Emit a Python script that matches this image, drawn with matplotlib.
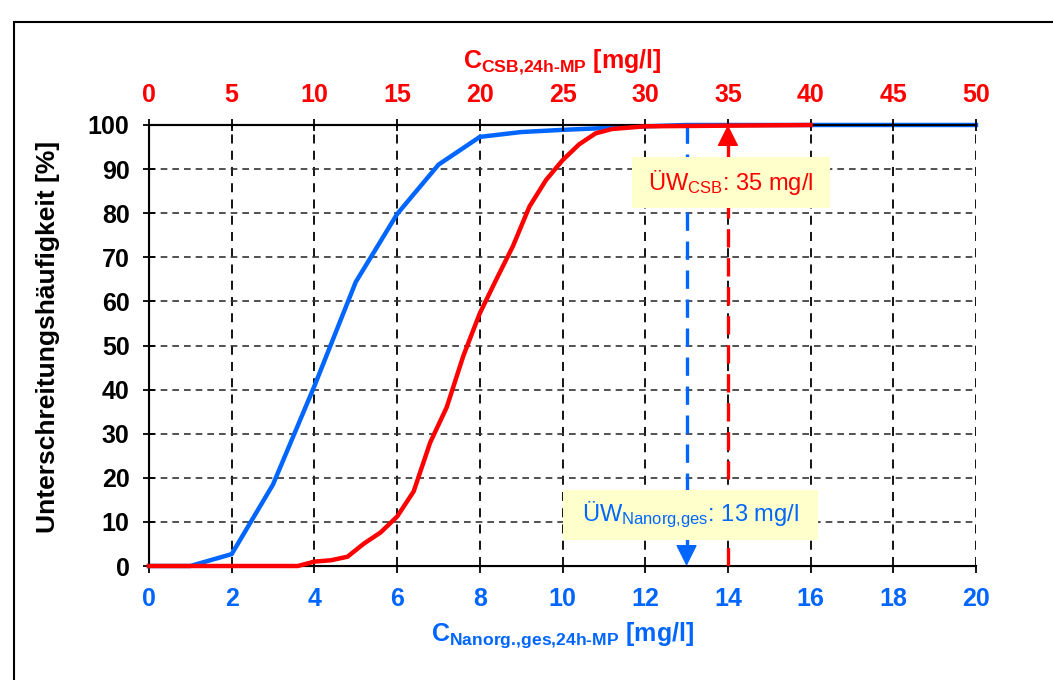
import matplotlib
matplotlib.use("Agg")
import matplotlib.pyplot as plt
from matplotlib.patches import Rectangle

plt.rcParams['font.family'] = ['Liberation Sans', 'DejaVu Sans']
plt.rcParams['mathtext.fontset'] = 'custom'
plt.rcParams['mathtext.rm'] = 'Liberation Sans'
plt.rcParams['mathtext.bf'] = 'Liberation Sans:bold'
plt.rcParams['mathtext.it'] = 'Liberation Sans:italic'
plt.rcParams['mathtext.default'] = 'regular'

# ---- data ----
nanorg_x = [0, 1, 2, 3, 4, 5, 6, 7, 8, 9, 10, 11, 12, 13, 14, 15, 16, 17, 18, 19, 20]
nanorg_y = [0, 0, 2.7, 18.5, 40.8, 64.4, 79.8, 91, 97.3, 98.4, 98.9, 99.3, 99.7, 100,
            100, 100, 100, 100, 100, 100, 100]

csb_x = [0, 9, 10, 11, 12, 13, 14, 15, 16, 17, 18, 19, 20, 21, 22, 23, 24, 25, 26, 27, 28, 30, 40]
csb_y = [0, 0, 1.0, 1.3, 2.1, 5.1, 7.6, 11.2, 16.9, 28, 36, 47.6, 57.3, 65, 72.5, 81.5,
         87.5, 92, 95.6, 98.1, 99.1, 99.7, 100]

uw_nanorg = 13
uw_csb = 35

bottom_ticks = list(range(0, 21, 2))
top_ticks = list(range(0, 51, 5))
y_ticks = list(range(0, 101, 10))

BLUE = '#0066FF'
RED = '#FF0000'
BOX = '#FFFFCC'
FS = 18
FS_ANN = 17
HY = '\u2010'

fig = plt.figure(figsize=(10.53, 6.8), dpi=100)
ax = fig.add_axes([149/1053, 1-566/680, (976-149)/1053, (566-125)/680])

ax.set_xlim(0, 20)
ax.set_ylim(0, 100)
ax.set_xticks(bottom_ticks)
ax.set_yticks(y_ticks)
ax.grid(axis='x', ls=(0, (5, 4)), color='black', lw=1.3)
ax.grid(axis='y', ls=(0, (4, 3)), color='#333333', lw=1.2)
ax.spines['right'].set_visible(False)
for s in ['left', 'bottom', 'top']:
    ax.spines[s].set_linewidth(1.5)
ax.tick_params(axis='y', direction='inout', length=8, width=1.3, pad=10,
               labelsize=FS, labelcolor='black')
ax.tick_params(axis='x', direction='out', length=5, width=1.3, pad=10,
               labelsize=FS, labelcolor=BLUE)
for lab in ax.get_xticklabels() + ax.get_yticklabels():
    lab.set_fontweight('bold')

ax.plot(nanorg_x, nanorg_y, color=BLUE, lw=3.2, zorder=3, clip_on=False)

ax.set_xlabel(r'$\mathbf{C_{Nanorg.\!{,}ges{,}24h' + HY + r'MP}}$ [mg/l]',
              color=BLUE, fontsize=FS, fontweight='bold')
ax.xaxis.set_label_coords(0.5, -0.122)
ax.set_ylabel('Unterschreitungshäufigkeit [%]', fontsize=19, fontweight='bold')
ax.yaxis.set_label_coords(-0.108, 0.52)

# Blue threshold line on bottom axis
ax.plot([uw_nanorg, uw_nanorg], [100, 3.5], color=BLUE, lw=2.4, ls=(0, (5.5, 3.2)), zorder=2)
ax.annotate('', xy=(uw_nanorg, 0), xytext=(uw_nanorg, 4),
            arrowprops=dict(arrowstyle='-|>,head_length=0.9,head_width=0.45',
                            mutation_scale=15, fc=BLUE, ec=BLUE, lw=1.0,
                            shrinkA=0, shrinkB=0), zorder=2)

# Top axis
ax2 = ax.twiny()
ax2.set_xlim(0, 50)
ax2.set_xticks(top_ticks)
ax2.spines['right'].set_visible(False)
ax2.spines['top'].set_linewidth(1.5)
ax2.tick_params(axis='x', direction='inout', length=8, width=1.3, pad=9,
                labelsize=FS, labelcolor=RED)
for lab in ax2.get_xticklabels():
    lab.set_fontweight('bold')
ax2.set_xlabel(r'$\mathbf{C_{CSB{,}24h' + HY + r'MP}}$ [mg/l]',
               color=RED, fontsize=FS, fontweight='bold')
ax2.xaxis.set_label_coords(0.5, 1.128)

ax2.plot(csb_x, csb_y, color=RED, lw=3.2, zorder=5, clip_on=False)

# Red threshold line on top axis
ax2.plot([uw_csb, uw_csb], [0, 96], color=RED, lw=2.4, ls=(0, (5.5, 3.2)), zorder=2)
ax2.annotate('', xy=(uw_csb, 100), xytext=(uw_csb, 96),
             arrowprops=dict(arrowstyle='-|>,head_length=0.9,head_width=0.45',
                             mutation_scale=15, fc=RED, ec=RED, lw=1.0,
                             shrinkA=0, shrinkB=0), zorder=2)

# Annotation boxes (in bottom-axis data coords)
ax2.add_patch(Rectangle((11.68, 81.2), 16.47-11.68, 92.7-81.2, transform=ax.transData,
                        fc=BOX, ec='none', zorder=3))
ax2.text((11.68+16.47)/2, 87.0, r'ÜW$_{\mathrm{CSB}}$: 35 mg/l', transform=ax.transData,
         ha='center', va='center', color=RED, fontsize=FS_ANN, zorder=4)
ax2.add_patch(Rectangle((10.01, 5.9), 16.18-10.01, 17.2-5.9, transform=ax.transData,
                        fc=BOX, ec='none', zorder=3))
ax2.text((10.01+16.18)/2, 11.6, r'ÜW$_{\mathrm{Nanorg{,}ges}}$: 13 mg/l', transform=ax.transData,
         ha='center', va='center', color=BLUE, fontsize=FS_ANN, zorder=4)

# Figure frame
fig.add_artist(Rectangle((14/1053, -0.05), 1.1, 1-22/680+0.05, transform=fig.transFigure,
                         fill=False, ec='black', lw=1.5))

fig.savefig('out.png', dpi=100)
